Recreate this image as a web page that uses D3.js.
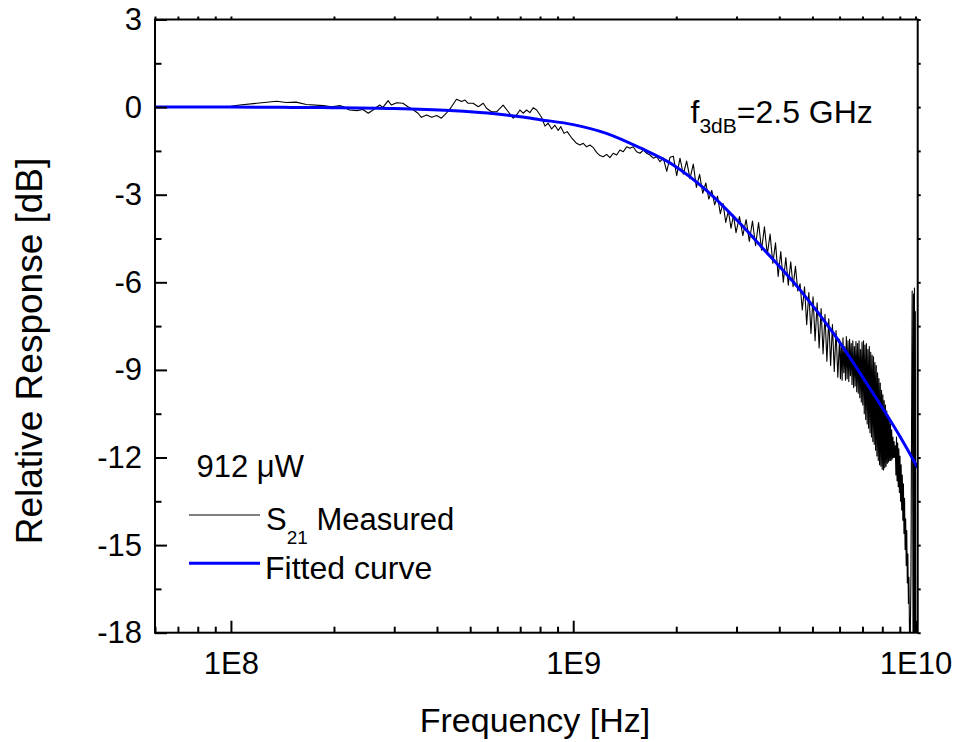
<!DOCTYPE html>
<html><head><meta charset="utf-8">
<script src="https://cdn.jsdelivr.net/npm/d3@7"></script>
<style>
body{margin:0;background:#fff}
text{font-family:"Liberation Sans",Arial,sans-serif;fill:#000}
</style>
</head><body>
<svg id="chart" width="960" height="742"></svg>
<script>
// ---- data ----
const measFreqGHz = [0.06,0.07,0.08,0.09,0.1,0.106,0.119,0.136,0.145,0.155,0.166,0.186,0.197,0.208,0.213,0.222,0.233,0.243,0.252,0.26,0.272,0.278,0.288,0.294,0.305,0.318,0.329,0.34,0.352,0.36,0.373,0.386,0.399,0.412,0.426,0.441,0.456,0.472,0.483,0.493,0.51,0.528,0.546,0.558,0.577,0.597,0.611,0.624,0.646,0.668,0.683,0.699,0.714,0.731,0.747,0.764,0.782,0.808,0.827,0.845,0.865,0.884,0.904,0.92,0.94,0.96,0.989,1.023,1.046,1.07,1.094,1.119,1.145,1.17,1.197,
1.224,1.252,1.28,1.309,1.339,1.369,1.4,1.433,1.465,1.497,1.532,1.567,1.602,1.639,1.676,1.714,1.754,1.793,1.833,1.876,1.918,1.961,2.006,2.051,2.097,2.145,2.194,2.243,
2.29,2.34,2.39,2.44,2.49,2.54,2.59,2.64,2.69,2.74,2.79,2.84,2.89,2.94,2.99,3.06,3.13,3.2,3.27,3.34,3.41,3.48,3.55,3.62,3.69,3.76,3.83,3.9,3.97,4.04,4.11,4.18,4.25,4.32,4.39,4.46,4.53,4.6,4.67,4.74,4.81,4.88,4.95,5.02,5.09,5.16,5.23,5.3,5.37,5.44,5.51,5.58,5.65,5.72,5.79,5.86,5.93,
6.0,6.035,6.07,6.105,6.14,6.175,6.21,6.245,6.28,6.315,6.35,6.385,6.42,6.455,6.49,6.525,6.56,6.595,6.63,6.665,6.7,6.735,6.77,6.805,6.84,6.875,6.91,6.945,6.98,7.015,7.05,7.085,7.12,7.155,7.19,7.225,7.26,7.295,7.33,7.365,7.4,7.435,7.47,7.505,7.54,7.575,7.61,7.645,7.68,7.715,7.75,7.785,7.82,7.855,7.89,7.925,7.96,7.995,8.03,8.065,8.1,8.135,8.17,8.205,8.24,8.275,8.31,8.345,8.38,8.415,8.45,8.485,8.52,8.555,8.59,8.625,8.66,8.695,8.73,
8.765,8.8,8.835,8.87,8.905,8.94,8.975,9.01,9.045,9.08,9.115,9.15,9.185,9.22,9.255,9.29,9.325,9.36,9.395,9.43,9.465,9.5,9.535,9.57,9.605,9.64,9.7,9.75,9.78,9.81,9.84,9.87,9.9,9.93,9.96,9.99,10.02];
const measDB = [0,0,0.01,0.01,0.03,0.07,0.13,0.2,0.16,0.17,0.09,0.05,0.01,0.05,0.01,-0.1,-0.12,-0.08,-0.21,-0.1,0.07,-0.01,0.22,0.07,0.15,0.13,0.01,-0.08,-0.21,-0.35,-0.27,-0.35,-0.29,-0.38,-0.21,0.01,0.27,0.19,0.24,0.13,0.13,0.01,0.13,-0.04,-0.16,-0.16,-0.04,0.07,-0.16,-0.38,-0.27,-0.1,-0.21,-0.1,-0.19,-0.02,-0.1,-0.35,-0.65,-0.55,-0.75,-0.62,-0.8,-0.67,-0.9,-0.84,-1.05,-1.24,-1.3,-1.24,-1.36,-1.3,-1.39,-1.55,-1.66,
-1.7,-1.62,-1.73,-1.58,-1.64,-1.47,-1.53,-1.36,-1.41,-1.36,-1.53,-1.58,-1.47,-1.58,-1.64,-1.75,-1.7,-1.87,-1.75,-2.2,-1.72,-1.68,-2.35,-1.75,-2.3,-1.85,-2.45,-1.95,
-2.75,-2.3,-2.95,-2.6,-3.15,-2.85,-3.35,-3.05,-3.65,-3.3,-3.95,-3.55,-4.15,-3.7,-4.3,-3.75,-4.4,-3.85,-4.6,-3.9,-4.75,-3.95,-4.9,-4.1,-5.05,-4.35,-5.35,-4.65,-5.8,-4.95,-6.0,-5.15,-6.1,-5.3,-6.15,-5.45,-6.3,-6.05,-6.95,-6.15,-7.45,-6.35,-7.75,-6.5,-8.0,-6.7,-8.25,-6.9,-8.45,-7.1,-8.7,-7.25,-8.85,-7.45,-9.05,-7.65,-9.25,
-7.95,-9.3,-8.1,-9.35,-7.9,-9.1,-8.2,-9.35,-7.86,-9.3,-8.0,-9.4,-7.95,-9.2,-8.1,-9.5,-8.0,-9.6,-8.2,-9.55,-8.03,-9.75,-8.1,-9.8,-8.0,-9.95,-8.3,-10.1,-8.05,-10.2,-8.0,-10.5,-8.15,-10.7,-8.1,-10.85,-8.3,-11.0,-8.2,-11.15,-8.4,-11.3,-8.5,-11.45,-8.55,-11.55,-8.75,-11.75,-8.85,-11.95,-9.1,-12.1,-9.3,-12.25,-9.45,-12.3,-9.7,-12.4,-9.85,-12.43,-10.05,-12.35,-10.2,-12.3,-10.4,-12.2,-10.55,-12.15,-10.7,-12.1,-10.85,-12.1,-11.05,-12.05,-11.3,-12.0,-11.45,-12.0,-11.6,
-12.6,-11.3,-12.8,-11.5,-13.0,-11.7,-13.2,-11.95,-13.5,-12.25,-13.8,-12.6,-14.15,-12.9,-14.6,-13.4,-15.15,-14.1,-15.7,-14.5,-16.3,-15.3,-17.0,-16.1,-18.0,-19,-16,-9.5,-6.3,-12,-19,-6.4,-19,-6.2,-19,-7,-19];
const fitFreqGHz = [0.06,0.1,0.15,0.2,0.3,0.436,0.6,0.7,0.8,1.0,1.25,1.57,1.96,2.45,3.07,3.59,4.6,5.76,7.2,9.02,10.15];
const fitDB = [0,0,-0.01,-0.02,-0.05,-0.12,-0.24,-0.33,-0.43,-0.6,-0.9,-1.4,-1.98,-2.85,-3.98,-4.85,-6.26,-7.75,-9.46,-11.29,-12.35];
const xMajorTicks = [1e8,1e9,1e10];
const xTickLabels = ["1E8","1E9","1E10"];
const yMajorTicks = [3,0,-3,-6,-9,-12,-15,-18];
const yMinorTicks = [1.5,-1.5,-4.5,-7.5,-10.5,-13.5,-16.5];

// ---- layout ----
const P = {left:155, right:917.7, top:19.5, bottom:632.7};
const svg = d3.select("#chart");
const x = d3.scaleLog().domain([6e7, 1.015e10]).range([P.left, P.right]);
const y = d3.scaleLinear().domain([-18, 3]).range([P.bottom, P.top]);

const xMinor = [];
[1e7,1e8,1e9].forEach(dec => { for (let k=2;k<=9;k++){ const v=dec*k; if (v>=6e7 && v<=1.015e10) xMinor.push(v);} });

svg.append("clipPath").attr("id","clip").append("rect")
  .attr("x",P.left).attr("y",P.top).attr("width",P.right-P.left).attr("height",P.bottom-P.top);

const meas = measFreqGHz.map((f,i)=>({f:f*1e9, v:measDB[i]}));
const fit = fitFreqGHz.map((f,i)=>({f:f*1e9, v:fitDB[i]}));
svg.append("path").datum(meas).attr("clip-path","url(#clip)")
  .attr("fill","none").attr("stroke","#000").attr("stroke-width",1.1).attr("stroke-linejoin","round")
  .attr("d", d3.line().x(d=>x(d.f)).y(d=>y(d.v)));
svg.append("path").datum(fit).attr("clip-path","url(#clip)")
  .attr("fill","none").attr("stroke","#0000ff").attr("stroke-width",3)
  .attr("d", d3.line().curve(d3.curveMonotoneX).x(d=>x(d.f)).y(d=>y(d.v)));

// axes
function style(g){ g.select(".domain").remove(); g.selectAll("line").attr("stroke","#000").attr("stroke-width",2); }
const lblSize = 31;
const ff = "Liberation Sans, Arial, sans-serif";
svg.append("g").attr("transform",`translate(0,${P.bottom})`)
  .call(d3.axisBottom(x).tickValues(xMajorTicks).tickSize(-12).tickPadding(19).tickFormat((d,i)=>xTickLabels[i]))
  .call(style).call(g=>g.selectAll("text").attr("font-size",lblSize).attr("font-family",ff));
svg.append("g").attr("transform",`translate(0,${P.bottom})`)
  .call(d3.axisBottom(x).tickValues(xMinor).tickSize(-6).tickFormat(""))
  .call(style);
svg.append("g").attr("transform",`translate(0,${P.top})`)
  .call(d3.axisTop(x).tickValues(xMajorTicks.concat(xMinor)).tickSize(3).tickFormat(""))
  .call(style);
svg.append("g").attr("transform",`translate(${P.left},0)`)
  .call(d3.axisLeft(y).tickValues(yMajorTicks).tickSize(-12).tickPadding(13).tickFormat(d=>d<0?"-"+Math.abs(d):String(d)))
  .call(style).call(g=>g.selectAll("text").attr("font-size",lblSize).attr("font-family",ff));
svg.append("g").attr("transform",`translate(${P.left},0)`)
  .call(d3.axisLeft(y).tickValues(yMinorTicks).tickSize(-6.5).tickFormat(""))
  .call(style);
svg.append("g").attr("transform",`translate(${P.right},0)`)
  .call(d3.axisRight(y).tickValues(yMajorTicks.concat(yMinorTicks)).tickSize(3).tickFormat(""))
  .call(style);

svg.append("rect").attr("x",P.left).attr("y",P.top).attr("width",P.right-P.left).attr("height",P.bottom-P.top)
  .attr("fill","none").attr("stroke","#000").attr("stroke-width",2);

// axis titles
svg.append("text").attr("x",535).attr("y",731.5).attr("text-anchor","middle").attr("font-size",34).text("Frequency [Hz]");
svg.append("text").attr("transform","translate(42,351) rotate(-90)").attr("text-anchor","middle").attr("font-size",37).text("Relative Response [dB]");

// annotation
const ann = svg.append("text").attr("x",690.5).attr("y",123.3).attr("font-size",32);
ann.append("tspan").text("f");
ann.append("tspan").attr("font-size",21).attr("dy",10).text("3dB");
ann.append("tspan").attr("dy",-10).text("=2.5 GHz");

// legend
svg.append("text").attr("x",196.5).attr("y",476.7).attr("font-size",31).text("912 \u03bcW");
svg.append("line").attr("x1",189).attr("x2",260).attr("y1",515).attr("y2",515).attr("stroke","#000").attr("stroke-width",1);
const s21 = svg.append("text").attr("x",266).attr("y",530).attr("font-size",31);
s21.append("tspan").text("S");
s21.append("tspan").attr("font-size",19).attr("dy",14).text("21");
s21.append("tspan").attr("dy",-14).text(" Measured");
svg.append("line").attr("x1",189).attr("x2",260).attr("y1",563.3).attr("y2",563.3).attr("stroke","#0000ff").attr("stroke-width",3);
svg.append("text").attr("x",265).attr("y",579).attr("font-size",32).text("Fitted curve");
</script>
</body></html>
